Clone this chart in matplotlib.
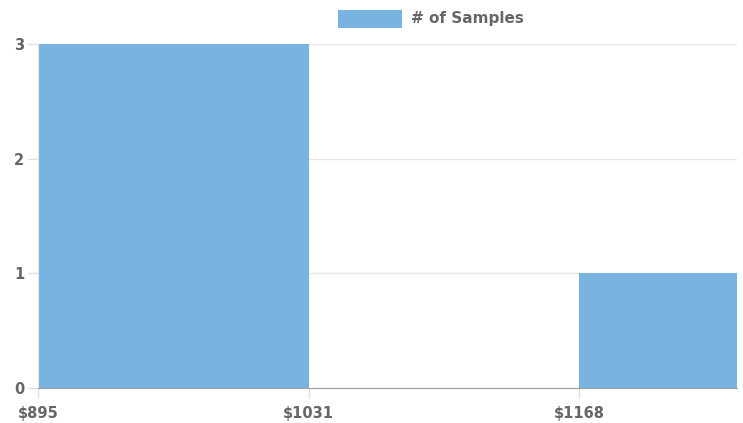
import matplotlib.pyplot as plt
from matplotlib.patches import Rectangle

# histogram bins (price) and counts
bin_edges = [895, 1031.5, 1168, 1304.5]
counts = [3, 0, 1]
tick_labels = ["$895", "$1031", "$1168"]
series_name = "# of Samples"

bar_color = "#79b3e0"
text_color = "#666666"

plt.rcParams['font.family'] = ['DejaVu Sans']

fig = plt.figure(figsize=(7.43, 4.23), dpi=100, facecolor='white')
ax = fig.add_axes([38 / 743, 1 - 388 / 423, 699 / 743, (388 - 44) / 423])

widths = [bin_edges[i + 1] - bin_edges[i] for i in range(len(counts))]
ax.bar(bin_edges[:-1], counts, width=widths, align='edge', color=bar_color,
       edgecolor='none', zorder=2)

step = bin_edges[1] - bin_edges[0]
ax.set_xlim(bin_edges[0], bin_edges[0] + step * 699 / 270.5)
ax.set_ylim(0, 3)

ax.set_xticks(bin_edges[:3])
ax.set_xticklabels(tick_labels)
ax.set_yticks([0, 1, 2, 3])

ax.grid(axis='y', color='#e6e6e6', linewidth=1, zorder=0)
ax.tick_params(axis='both', colors='#e0e0e0', labelcolor=text_color,
               labelsize=10.5, length=7, width=1)
ax.tick_params(axis='y', pad=3)
ax.tick_params(axis='x', pad=6)
for lab in ax.get_xticklabels() + ax.get_yticklabels():
    lab.set_fontweight('bold')

for s in ['top', 'right']:
    ax.spines[s].set_visible(False)
ax.spines['left'].set_color('#e6e6e6')
ax.spines['bottom'].set_color('#a0a0a0')
ax.spines['bottom'].set_zorder(3)

# legend drawn chart.js style at top
fig.patches.append(Rectangle((338 / 743, 1 - 28 / 423), 64 / 743, 18 / 423,
                             transform=fig.transFigure, facecolor=bar_color,
                             edgecolor='none'))
fig.text(411 / 743, 1 - 18 / 423, series_name, color=text_color, fontsize=11,
         fontweight='bold', va='center', ha='left')

fig.savefig('out.png', dpi=100, facecolor='white')
